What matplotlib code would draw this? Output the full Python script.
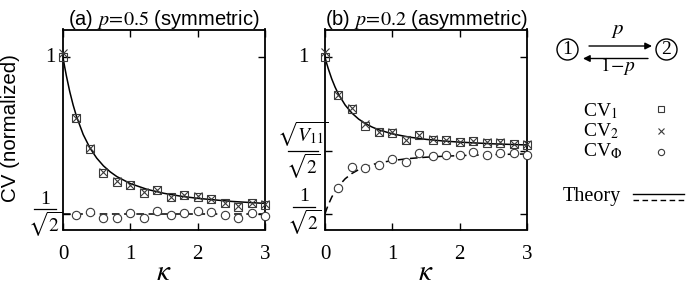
import numpy as np
import matplotlib
matplotlib.use("Agg")
import matplotlib.pyplot as plt
from matplotlib.patches import Circle
from matplotlib.lines import Line2D
from matplotlib.transforms import offset_copy

plt.rcParams['font.family'] = ['Liberation Sans', 'DejaVu Sans']
plt.rcParams['mathtext.fontset'] = 'stix'

# ---------------- data ----------------
kappa = [0.0, 0.2, 0.4, 0.6, 0.8, 1.0, 1.2, 1.4, 1.6, 1.8, 2.0, 2.2, 2.4, 2.6, 2.8, 3.0]
kappa_phi = [0.2, 0.4, 0.6, 0.8, 1.0, 1.2, 1.4, 1.6, 1.8, 2.0, 2.2, 2.4, 2.6, 2.8, 3.0]

cv1_a = [1.000, 0.886, 0.828, 0.784, 0.767, 0.761, 0.746, 0.751, 0.739, 0.7425, 0.739, 0.734, 0.727, 0.7206, 0.728, 0.724]
cv2_a = [1.008, 0.887, 0.830, 0.785, 0.768, 0.761, 0.747, 0.752, 0.739, 0.742, 0.740, 0.734, 0.727, 0.721, 0.728, 0.725]
cvphi_a = [0.705, 0.711, 0.699, 0.700, 0.708, 0.700, 0.713, 0.705, 0.709, 0.7125, 0.711, 0.704, 0.699, 0.708, 0.703]

cv1_b = [1.000, 0.929, 0.904, 0.871, 0.860, 0.859, 0.845, 0.855, 0.846, 0.845, 0.841, 0.843, 0.840, 0.840, 0.837, 0.836]
cv2_b = [1.010, 0.930, 0.905, 0.875, 0.861, 0.860, 0.846, 0.855, 0.847, 0.846, 0.842, 0.843, 0.841, 0.841, 0.838, 0.837]
cvphi_b = [0.756, 0.795, 0.792, 0.799, 0.809, 0.804, 0.820, 0.815, 0.818, 0.818, 0.823, 0.818, 0.821, 0.820, 0.818]

kappa_th = [0.0, 0.025, 0.05, 0.1, 0.15, 0.2, 0.3, 0.4, 0.5, 0.6, 0.7, 0.8, 1.0, 1.25, 1.5, 1.75, 2.0, 2.5, 3.0]
th_solid_a = [1.0, 0.9820, 0.9654, 0.9359, 0.9109, 0.8895, 0.8555, 0.8303, 0.8114, 0.7969, 0.7857,
              0.7767, 0.7636, 0.7528, 0.7454, 0.7400, 0.7360, 0.7303, 0.7265]
kappa_th_dash_a = [0.0, 3.0]
th_dash_a = [0.7071, 0.7071]
th_solid_b = [1.0, 0.9885, 0.9781, 0.9596, 0.9441, 0.9310, 0.9105, 0.8955, 0.8843, 0.8759, 0.8694,
              0.8642, 0.8567, 0.8506, 0.8464, 0.8434, 0.8412, 0.8380, 0.8359]
th_dash_b = [0.7071, 0.7162, 0.7243, 0.7382, 0.7495, 0.7587, 0.7727, 0.7826, 0.7897, 0.7951, 0.7991,
             0.8023, 0.8068, 0.8105, 0.8130, 0.8147, 0.8160, 0.8179, 0.8191]

# tick values and labels (fraction labels as (numerator, denominator))
yticks_a = [0.7071, 1.0]
yticklabels_a = [('1', r'$\sqrt{2}$'), '1']
yticks_b = [0.7071, 0.8254, 1.0]
yticklabels_b = [('1', r'$\sqrt{2}$'), (r'$\sqrt{V_{11}}$', r'$\sqrt{2}$'), '1']
xticks = [0, 1, 2, 3]

# ---------------- figure ----------------
W, H = 692, 290
fig = plt.figure(figsize=(W / 100, H / 100), dpi=100)
PT = 0.72  # points per pixel

top_px, bot_px = 29.5, 229.5
def ax_rect(l, r):
    return [l / W, (H - bot_px) / H, (r - l) / W, (bot_px - top_px) / H]

ax_a = fig.add_axes(ax_rect(63, 265))
ax_b = fig.add_axes(ax_rect(325, 527))
AXW = 202.0


def ylabel_at(ax, y, lab, dx_px, bar_w, dy_px):
    base = ax.get_yaxis_transform()
    if isinstance(lab, tuple):
        num, den = lab
        t_bar = offset_copy(base, fig=fig, x=0, y=dy_px * PT, units='points')
        ax.add_line(Line2D([-(dx_px + bar_w / 2) / AXW, -(dx_px - bar_w / 2) / AXW], [y, y],
                           transform=t_bar, color='black', lw=0.9, clip_on=False))
        t_num = offset_copy(base, fig=fig, x=-dx_px * PT, y=(dy_px + 1.5) * PT, units='points')
        ax.text(0, y, num, transform=t_num, ha='center', va='bottom', fontsize=14,
                fontfamily='Liberation Serif', clip_on=False)
        t_den = offset_copy(base, fig=fig, x=-dx_px * PT, y=(dy_px - 1.0) * PT, units='points')
        ax.text(0, y, den, transform=t_den, ha='center', va='top', fontsize=14, clip_on=False)
    else:
        t = offset_copy(base, fig=fig, x=-dx_px * PT, y=0, units='points')
        ax.text(0, y, lab, transform=t, ha='center', va='center', fontsize=15,
                fontfamily='Liberation Serif', clip_on=False)


mcol = '#3a3a3a'
for ax, c1, c2, cp, ths, thd_x, thd, title in [
    (ax_a, cv1_a, cv2_a, cvphi_a, th_solid_a, kappa_th_dash_a, th_dash_a,
     r'(a) $p\!=\!0.5$ (symmetric)'),
    (ax_b, cv1_b, cv2_b, cvphi_b, th_solid_b, kappa_th, th_dash_b,
     r'(b) $p\!=\!0.2$ (asymmetric)'),
]:
    ax.plot(kappa_th, ths, '-', color='black', lw=1.1, zorder=2)
    ax.plot(thd_x, thd, '--', color='black', lw=1.1, dashes=(5, 3), zorder=2)
    ax.plot(kappa, c1, 's', ms=6.2, mfc='none', mec=mcol, mew=0.8, clip_on=False, zorder=3)
    ax.plot(kappa, c2, 'x', ms=5.5, mec=mcol, mew=0.8, clip_on=False, zorder=3)
    ax.plot(kappa_phi, cp, 'o', ms=6, mfc='white', mec=mcol, mew=0.8, clip_on=False, zorder=3)

    ax.set_xlim(0, 3)
    ax.set_ylim(0.6777, 1.052)
    ax.set_xticks(xticks)
    ax.set_xticklabels([str(t) for t in xticks], fontfamily='Liberation Serif', fontsize=15)
    ax.tick_params(direction='in', length=5, width=1.0, top=True, right=True)
    ax.tick_params(axis='x', pad=11)
    for s in ax.spines.values():
        s.set_linewidth(1.3)
    ax.set_title(title, fontsize=14.5, pad=3)
    ax.set_xlabel(r'$\kappa$', fontsize=21)
    ax.xaxis.set_label_coords(0.5, -0.14)

# y ticks: marks from the library, labels drawn as text (stacked fractions)
ax_a.set_yticks(yticks_a)
ax_a.set_yticklabels([])
ax_b.set_yticks(yticks_b)
ax_b.set_yticklabels([])
ylabel_at(ax_a, yticks_a[0], yticklabels_a[0], 18, 22, 4.5)
ylabel_at(ax_a, yticks_a[1], yticklabels_a[1], 13, 0, 0)
ylabel_at(ax_b, yticks_b[0], yticklabels_b[0], 21, 22, 7)
ylabel_at(ax_b, yticks_b[1], yticklabels_b[1], 22, 30, 0)
ylabel_at(ax_b, yticks_b[2], yticklabels_b[2], 22, 0, 0)

ax_a.set_ylabel('CV (normalized)', fontsize=14.8)
ax_a.yaxis.set_label_coords(-0.215, 0.508)

# ---------------- right-hand diagram and legend ----------------
ov = fig.add_axes([0, 0, 1, 1])
ov.set_xlim(0, W)
ov.set_ylim(H, 0)
ov.axis('off')

for cx, lab in [(567.5, '1'), (666.5, '2')]:
    ov.add_patch(Circle((cx, 49.5), 10.5, fill=False, lw=1.0, color='black'))
    ov.text(cx, 50, lab, ha='center', va='center', fontsize=14, fontfamily='Liberation Serif')

ov.annotate('', xy=(652, 46), xytext=(589, 46),
            arrowprops=dict(arrowstyle='-|>', color='black', lw=1.0, mutation_scale=10, shrinkA=0, shrinkB=0))
ov.annotate('', xy=(583, 58.5), xytext=(648, 58.5),
            arrowprops=dict(arrowstyle='-|>', color='black', lw=1.0, mutation_scale=10, shrinkA=0, shrinkB=0))
ov.text(618, 31, r'$p$', ha='center', va='center', fontsize=15)
ov.text(618, 66, r'$1\!-\!p$', ha='center', va='center', fontsize=14)

leg_x_text = 583
leg_x_mark = 661
for y, lab in [(111, r'CV$_{1}$'), (131, r'CV$_{2}$'), (151, r'CV$_\Phi$')]:
    ov.text(leg_x_text, y, lab, ha='left', va='center', fontsize=14, fontfamily='Liberation Serif')
ov.plot([leg_x_mark], [109], 's', ms=4.5, mfc='none', mec=mcol, mew=0.8)
ov.plot([leg_x_mark], [130.5], 'x', ms=4.5, mec=mcol, mew=0.8)
ov.plot([leg_x_mark], [152], 'o', ms=4.5, mfc='none', mec=mcol, mew=0.8)

ov.text(563, 196, 'Theory', ha='left', va='center', fontsize=14.5, fontfamily='Liberation Serif')
ov.plot([633, 684], [193.5, 193.5], '-', color='black', lw=1.0)
ov.plot([633, 684], [200, 200], '--', color='black', lw=1.0, dashes=(4, 2.5))

fig.savefig('out.png', dpi=100)
